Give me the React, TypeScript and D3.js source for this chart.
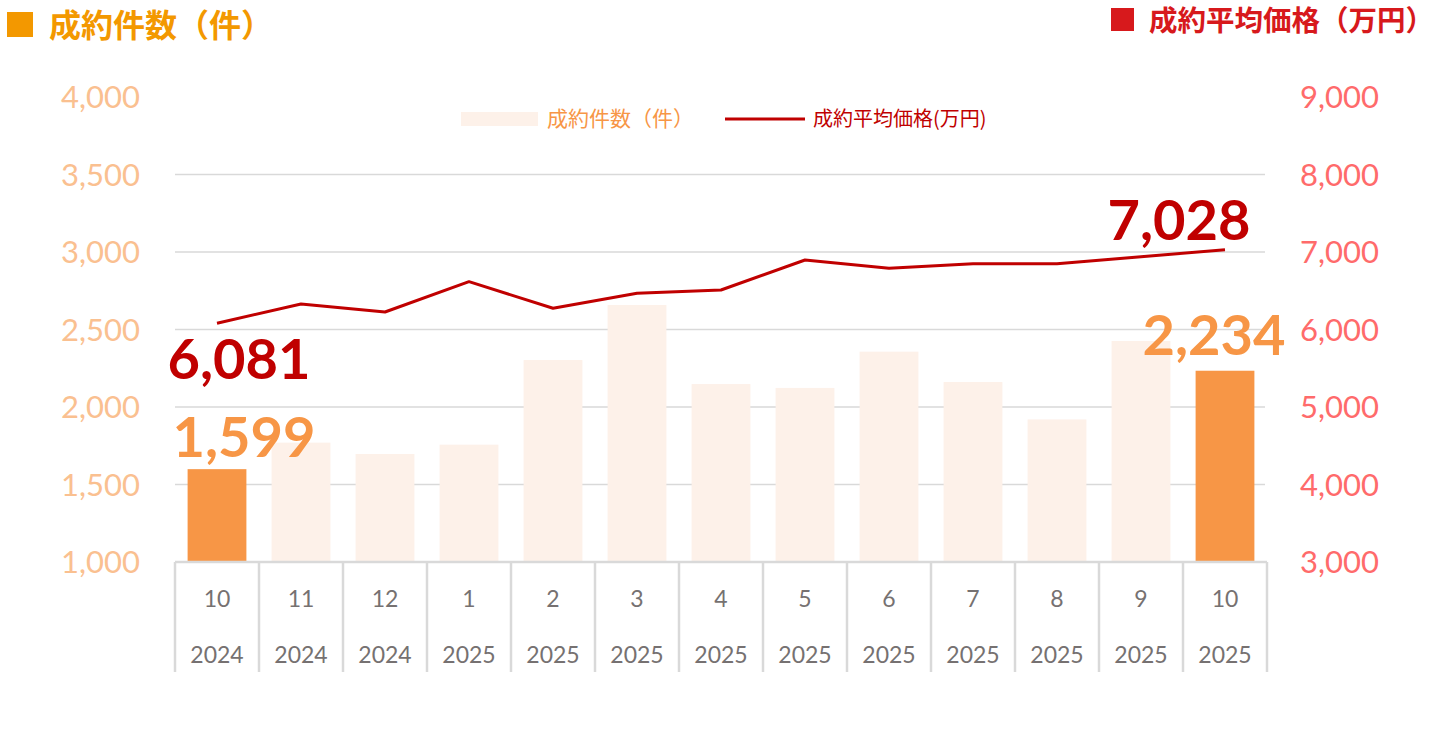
import React from "react";
import * as d3 from "d3";

// categories: month / year
const months = ["10", "11", "12", "1", "2", "3", "4", "5", "6", "7", "8", "9", "10"];
const years = ["2024", "2024", "2024", "2025", "2025", "2025", "2025", "2025", "2025", "2025", "2025", "2025", "2025"];

// 成約件数（件）
const contracts = [1599, 1770, 1697, 1757, 2303, 2658, 2148, 2123, 2357, 2161, 1920, 2426, 2234];
// 成約平均価格（万円）
const avgPrice = [6081, 6329, 6226, 6617, 6274, 6467, 6510, 6897, 6789, 6849, 6849, 6940, 7028];

const leftTicks = [1000, 1500, 2000, 2500, 3000, 3500, 4000];
const rightTicks = [3000, 4000, 5000, 6000, 7000, 8000, 9000];

const highlighted = [0, 12];

const W = 1440;
const H = 738;
const LATIN = "Lato, 'Noto Sans CJK JP', sans-serif";
const CJK = "'Noto Sans CJK JP', sans-serif";

const fmt = d3.format(",");

const App: React.FC = () => {
  const svgRef = React.useRef<SVGSVGElement>(null);

  React.useEffect(() => {
    const svgEl = d3.select(svgRef.current);
    svgEl.selectAll("*").remove();

    const plot = { left: 175, right: 1267, top: 97, bottom: 562 };

    const x = d3
      .scaleBand<number>()
      .domain(d3.range(months.length))
      .range([plot.left, plot.right])
      .paddingInner(0.3)
      .paddingOuter(0.15);
    const step = x.step();
    const cx = (i: number) => x(i)! + x.bandwidth() / 2;

    const yL = d3.scaleLinear().domain([1000, 4000]).range([plot.bottom, plot.top]);
    const yR = d3.scaleLinear().domain([3000, 9000]).range([plot.bottom, plot.top]);

    svgEl.append("rect").attr("width", W).attr("height", H).attr("fill", "white");

    // gridlines (no top one)
    svgEl
      .append("g")
      .selectAll("line")
      .data(leftTicks.filter((t) => t > 1000 && t < 4000))
      .join("line")
      .attr("x1", plot.left)
      .attr("x2", plot.right - 2)
      .attr("y1", (d) => yL(d))
      .attr("y2", (d) => yL(d))
      .attr("stroke", "#d9d9d9")
      .attr("stroke-width", 1.5);

    // bars
    svgEl
      .append("g")
      .selectAll("rect")
      .data(contracts)
      .join("rect")
      .attr("x", (d, i) => x(i)!)
      .attr("width", x.bandwidth())
      .attr("y", (d) => yL(d))
      .attr("height", (d) => yL(1000) - yL(d))
      .attr("fill", (d, i) => (highlighted.includes(i) ? "#f79646" : "#fdf1e9"));

    // price line
    const line = d3
      .line<number>()
      .x((d, i) => cx(i))
      .y((d) => yR(d));
    svgEl
      .append("path")
      .datum(avgPrice)
      .attr("d", line)
      .attr("fill", "none")
      .attr("stroke", "#c00000")
      .attr("stroke-width", 3)
      .attr("stroke-linejoin", "round");

    // x axis (table-like)
    const xAxis = svgEl.append("g").attr("stroke", "#d9d9d9").attr("stroke-width", 2.5);
    xAxis
      .append("line")
      .attr("x1", plot.left)
      .attr("x2", plot.right)
      .attr("y1", plot.bottom)
      .attr("y2", plot.bottom);
    xAxis
      .selectAll("line.sep")
      .data(d3.range(months.length + 1))
      .join("line")
      .attr("class", "sep")
      .attr("x1", (i) => plot.left + i * step)
      .attr("x2", (i) => plot.left + i * step)
      .attr("y1", plot.bottom)
      .attr("y2", 672);

    const catG = svgEl
      .append("g")
      .attr("font-family", LATIN)
      .attr("font-size", 23)
      .attr("fill", "#767171")
      .attr("text-anchor", "middle");
    catG
      .selectAll("text.m")
      .data(months)
      .join("text")
      .attr("class", "m")
      .attr("x", (d, i) => cx(i))
      .attr("y", 607)
      .text((d) => d);
    catG
      .selectAll("text.y")
      .data(years)
      .join("text")
      .attr("class", "y")
      .attr("x", (d, i) => cx(i))
      .attr("y", 663)
      .text((d) => d);

    // left axis labels
    svgEl
      .append("g")
      .attr("font-family", LATIN)
      .attr("font-size", 31)
      .attr("fill", "#fac090")
      .attr("text-anchor", "end")
      .selectAll("text")
      .data(leftTicks)
      .join("text")
      .attr("x", 140)
      .attr("y", (d) => yL(d))
      .attr("dy", "0.36em")
      .text((d) => fmt(d));

    // right axis labels
    svgEl
      .append("g")
      .attr("font-family", LATIN)
      .attr("font-size", 31)
      .attr("fill", "#ff6b6b")
      .attr("text-anchor", "start")
      .selectAll("text")
      .data(rightTicks)
      .join("text")
      .attr("x", 1300)
      .attr("y", (d) => yR(d))
      .attr("dy", "0.36em")
      .text((d) => fmt(d));

    // data labels for first / last
    const first = 0;
    const last = months.length - 1;
    const labels = [
      { text: fmt(avgPrice[first]), x: cx(first) + 22, y: yR(avgPrice[first]) + 56, color: "#c00000" },
      { text: fmt(contracts[first]), x: cx(first) + 27, y: yL(contracts[first]) - 12, color: "#f79646" },
      { text: fmt(avgPrice[last]), x: cx(last) - 46, y: yR(avgPrice[last]) - 10, color: "#c00000" },
      { text: fmt(contracts[last]), x: cx(last) - 11, y: yL(contracts[last]) - 16, color: "#f79646" },
    ];
    svgEl
      .append("g")
      .attr("font-family", LATIN)
      .attr("font-weight", "bold")
      .attr("font-size", 56)
      .attr("text-anchor", "middle")
      .selectAll("text")
      .data(labels)
      .join("text")
      .attr("x", (d) => d.x)
      .attr("y", (d) => d.y)
      .attr("fill", (d) => d.color)
      .text((d) => d.text);

    // legend
    const legend = svgEl.append("g");
    legend.append("rect").attr("x", 461).attr("y", 112).attr("width", 77).attr("height", 14).attr("fill", "#fdf1e9");
    legend
      .append("text")
      .attr("x", 547)
      .attr("y", 126)
      .attr("font-family", CJK)
      .attr("font-size", 21)
      .attr("fill", "#f79646")
      .text("成約件数（件）");
    legend
      .append("line")
      .attr("x1", 725)
      .attr("x2", 805)
      .attr("y1", 119)
      .attr("y2", 119)
      .attr("stroke", "#c00000")
      .attr("stroke-width", 3);
    legend
      .append("text")
      .attr("x", 813)
      .attr("y", 126)
      .attr("font-family", CJK)
      .attr("font-size", 20)
      .attr("fill", "#c00000")
      .text("成約平均価格(万円)");

    // titles
    svgEl.append("rect").attr("x", 7).attr("y", 12).attr("width", 26).attr("height", 25).attr("fill", "#f39800");
    svgEl
      .append("text")
      .attr("x", 49)
      .attr("y", 37)
      .attr("font-family", CJK)
      .attr("font-weight", "bold")
      .attr("font-size", 32)
      .attr("fill", "#f39800")
      .text("成約件数（件）");
    svgEl.append("rect").attr("x", 1111).attr("y", 8).attr("width", 23).attr("height", 23).attr("fill", "#d7191c");
    svgEl
      .append("text")
      .attr("x", 1149)
      .attr("y", 31)
      .attr("font-family", CJK)
      .attr("font-weight", "bold")
      .attr("font-size", 28.5)
      .attr("fill", "#d7191c")
      .text("成約平均価格（万円）");
  }, []);

  return (
    <svg
      ref={svgRef}
      width={W}
      height={H}
      style={{ position: "absolute", left: 0, top: 0, display: "block" }}
    />
  );
};

export default App;
